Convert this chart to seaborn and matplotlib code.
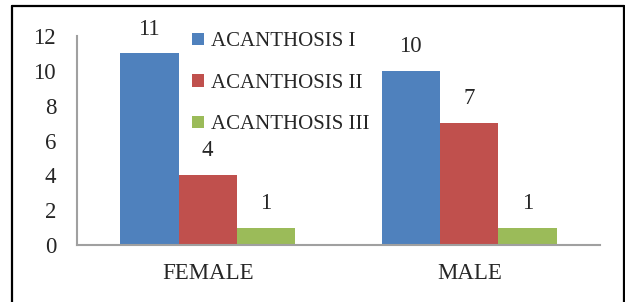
import matplotlib
matplotlib.use("Agg")
import matplotlib.pyplot as plt
import seaborn as sns
import pandas as pd
from matplotlib.lines import Line2D

categories = ["FEMALE", "MALE"]
series = ["ACANTHOSIS I", "ACANTHOSIS II", "ACANTHOSIS III"]
acanthosis_1 = [11, 10]
acanthosis_2 = [4, 7]
acanthosis_3 = [1, 1]
colors = ["#4F81BD", "#C0504D", "#9BBB59"]

rows = []
for s, vals in zip(series, [acanthosis_1, acanthosis_2, acanthosis_3]):
    for c, v in zip(categories, vals):
        rows.append({"cat": c, "series": s, "value": v})
df = pd.DataFrame(rows)

sns.set_style("white")
plt.rcParams["font.family"] = ["Liberation Serif", "DejaVu Serif"]

fig = plt.figure(figsize=(6.25, 3.02), dpi=100)
ax = fig.add_axes([77 / 625, 1 - 245 / 302, (600 - 77) / 625, (245 - 36) / 302])

sns.barplot(data=df, x="cat", y="value", hue="series", palette=colors,
            order=categories, hue_order=series, width=0.67, ax=ax,
            saturation=1, edgecolor="none", linewidth=0, legend=True)

for cont in ax.containers:
    ax.bar_label(cont, labels=[f"{int(v)}" for v in cont.datavalues],
                 padding=10, fontsize=16.5)

ax.set_ylim(0, 12)
ax.set_yticks(range(0, 13, 2))
ax.set_xlim(-0.5, 1.5)
ax.set_xlabel("")
ax.set_ylabel("")
ax.tick_params(axis="y", labelsize=16.5, length=0, pad=15)
ax.tick_params(axis="x", labelsize=16.5, length=0, pad=13)
for side in ["top", "right"]:
    ax.spines[side].set_visible(False)
for side in ["left", "bottom"]:
    ax.spines[side].set_color("#A0A0A0")
    ax.spines[side].set_linewidth(1.5)

leg = ax.legend(loc="upper left", bbox_to_anchor=(184 / 625, 1 - 24 / 302),
                bbox_transform=fig.transFigure, frameon=False, fontsize=15,
                handlelength=0.55, handleheight=0.55, handletextpad=0.35,
                labelspacing=1.08, borderaxespad=0)

# outer border (bottom edge cut off by the picture)
for xs, ys in [([12 / 625, 12 / 625], [0, 1 - 6 / 302]),
               ([12 / 625, 623.5 / 625], [1 - 6 / 302, 1 - 6 / 302]),
               ([623.5 / 625, 623.5 / 625], [1 - 6 / 302, 0])]:
    fig.add_artist(Line2D(xs, ys, transform=fig.transFigure, color="black", linewidth=1.6))

fig.savefig("out.png", dpi=100)
